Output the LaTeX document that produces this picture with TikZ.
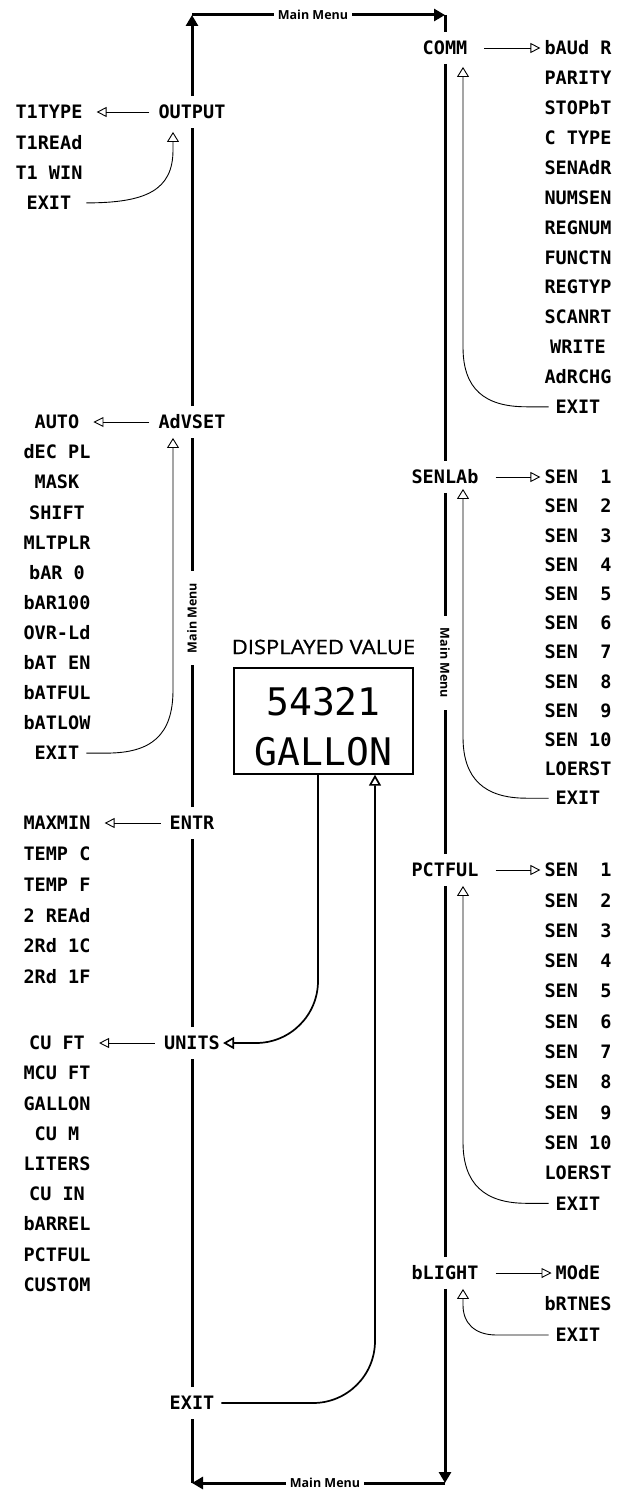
\documentclass[tikz,border=0pt]{standalone}
\usepackage{fontspec}
\usetikzlibrary{arrows.meta,positioning}
\newfontfamily\lcd{DejaVu Sans Mono}
\newfontfamily\lbl{Open Sans}
\newfontfamily\lblwide{Open Sans}[FakeStretch=1.1,FakeBold=0.9]
\newcommand\senlist{SEN~~1,SEN~~2,SEN~~3,SEN~~4,SEN~~5,SEN~~6,SEN~~7,SEN~~8,SEN~~9,SEN~10,LOERST,EXIT}

\begin{document}
\begin{tikzpicture}[x=1pt,y=-1pt,
  menu/.style={font=\lcd\bfseries\fontsize{18.5}{20}\selectfont,
               text height=13.5pt,text depth=0pt,inner xsep=3pt,inner ysep=9pt},
  trunk/.style={line width=3pt},
  trunkarr/.style={trunk,-{Triangle[length=11pt,width=12pt]}},
  fwd/.style={line width=0.9pt,-{Triangle[open,length=10pt,width=10pt]}},
  fwdl/.style={fwd,shorten <=6pt,shorten >=11pt},
  fwdr/.style={fwd,shorten <=14pt,shorten >=1pt},
  back/.style={line width=0.9pt,-{Triangle[open,length=10pt,width=12pt]}},
  feed/.style={line width=1.7pt,rounded corners=62pt,-{Triangle[open,length=11pt,width=12pt]}},
  mm/.style={font=\lbl\bfseries\fontsize{12.5}{14}\selectfont,inner sep=4pt},
  mmv/.style={mm,inner xsep=12pt},
  lcdbig/.style={font=\lcd\fontsize{38}{40}\selectfont,inner sep=0pt}
]
\useasboundingbox (0,0) rectangle (624,1490);

% corners of the main loop
\coordinate (tl) at (192,15);
\coordinate (tr) at (445,15);
\coordinate (bl) at (192,1483);
\coordinate (br) at (445,1483);

% main menu entries on the two trunks
\node[menu] (output) at (192,112)  {OUTPUT};
\node[menu] (advset) at (192,422)  {AdVSET};
\node[menu] (entr)   at (192,823)  {ENTR};
\node[menu] (units)  at (192,1043) {UNITS};
\node[menu] (mexit)  at (192,1403) {EXIT};
\node[menu] (comm)   at (445,48)   {COMM};
\node[menu] (senlab) at (445,477)  {SENLAb};
\node[menu] (pctful) at (445,870)  {PCTFUL};
\node[menu] (blight) at (445,1273) {bLIGHT};

\node[mm]            (mmtop)   at (313,15)   {Main Menu};
\node[mm]            (mmbot)   at (325,1483) {Main Menu};
\node[mmv,rotate=90] (mmleft)  at (192,618)  {Main Menu};
\node[mmv,rotate=-90](mmright) at (445,663)  {Main Menu};

% sub menus
\foreach \t [count=\i from 0] in {T1TYPE,T1REAd,T1 WIN,EXIT}
  \node[menu] (out\i) at (49,{112+30.3*\i}) {\t};
\foreach \t [count=\i from 0] in {AUTO,dEC PL,MASK,SHIFT,MLTPLR,bAR 0,bAR100,OVR-Ld,bAT EN,bATFUL,bATLOW,EXIT}
  \node[menu] (adv\i) at (57,{422+30.1*\i}) {\t};
\foreach \t [count=\i from 0] in {MAXMIN,TEMP C,TEMP F,2 REAd,2Rd 1C,2Rd 1F}
  \node[menu] (ent\i) at (57,{823+30.8*\i}) {\t};
\foreach \t [count=\i from 0] in {CU FT,MCU FT,GALLON,CU M,LITERS,CU IN,bARREL,PCTFUL,CUSTOM}
  \node[menu] (uni\i) at (57,{1043+30.2*\i}) {\t};
\foreach \t [count=\i from 0] in {bAUd R,PARITY,STOPbT,C TYPE,SENAdR,NUMSEN,REGNUM,FUNCTN,REGTYP,SCANRT,WRITE,AdRCHG,EXIT}
  \node[menu] (com\i) at (578,{48+29.9*\i}) {\t};
\foreach \t [count=\i from 0] in \senlist
  \node[menu] (lab\i) at (578,{477+29.2*\i}) {\t};
\foreach \t [count=\i from 0] in \senlist
  \node[menu] (pct\i) at (578,{870+30.3*\i}) {\t};
\foreach \t [count=\i from 0] in {MOdE,bRTNES,EXIT}
  \node[menu] (bl\i) at (578,{1273+31*\i}) {\t};

% display
\node[font=\lblwide\fontsize{20}{22}\selectfont,inner sep=0pt] (title) at (323.5,647) {DISPLAYED VALUE};
\node[draw,line width=1.4pt,minimum width=179pt,minimum height=106pt,inner sep=0pt] (disp) at (323.5,721) {};
\node[lcdbig] (value) at (323.5,702) {54321};
\node[lcdbig] (unit)  at (323.5,752) {GALLON};

% left trunk, bottom to top
\draw[trunk]    (bl) -- (mexit.south);
\draw[trunk]    (mexit.north) -- (units.south);
\draw[trunk]    (units.north) -- (entr.south);
\draw[trunk]    (entr.north) -- (mmleft.west);
\draw[trunk]    (mmleft.east) -- (advset.south);
\draw[trunk]    (advset.north) -- (output.south);
\draw[trunkarr] (output.north) -- (tl);
\draw[trunk]    (tl) -- (mmtop.west);
\draw[trunkarr] (mmtop.east) -- (tr);
% right trunk, top to bottom
\draw[trunk]    (tr) -- (comm.north);
\draw[trunk]    (comm.south) -- (senlab.north);
\draw[trunk]    (senlab.south) -- (mmright.west);
\draw[trunk]    (mmright.east) -- (pctful.north);
\draw[trunk]    (pctful.south) -- (blight.north);
\draw[trunkarr] (blight.south) -- (br);
\draw[trunk]    (br) -- (mmbot.east);
\draw[trunkarr] (mmbot.west) -- (bl);

% into the sub menus
\draw[fwdl] (output.west) -- (out0.east);
\draw[fwdl] (advset.west) -- (adv0.east);
\draw[fwdl] (entr.west)   -- (ent0.east);
\draw[fwdl] (units.west)  -- (uni0.east);
\draw[fwdr] (comm.east)   -- (com0.west);
\draw[fwdr] (senlab.east) -- (lab0.west);
\draw[fwdr] (pctful.east) -- (pct0.west);
\draw[fwdr] (blight.east) -- (bl0.west);

% back out of the sub menus
\coordinate (outtip) at ([xshift=-19pt,yshift=-4pt]output.south);
\coordinate (advtip) at ([xshift=-19pt]advset.south);
\coordinate (comtip) at ([xshift=18pt,yshift=-3pt]comm.south);
\coordinate (labtip) at ([xshift=18pt,yshift=4pt]senlab.south);
\coordinate (pcttip) at ([xshift=18pt]pctful.south);
\coordinate (bltip)  at ([xshift=18pt]blight.south);
\draw[back] ([xshift=12pt]out3.east) .. controls +(60,0) and +(0,40) .. (outtip |- 0,150) -- (outtip);
\draw[back] ([xshift=4pt]adv11.east) -- ++(20,0) .. controls +(45,0) and +(0,45) .. (advtip |- 0,690) -- (advtip);
\draw[back] ([xshift=-4pt]com12.west) -- ++(-22,0) .. controls +(-42,0) and +(0,42) .. (comtip |- 0,347) -- (comtip);
\draw[back] ([xshift=-4pt]lab11.west) -- ++(-22,0) .. controls +(-42,0) and +(0,42) .. (labtip |- 0,737) -- (labtip);
\draw[back] ([xshift=-4pt]pct11.west) -- ++(-22,0) .. controls +(-42,0) and +(0,42) .. (pcttip |- 0,1142) -- (pcttip);
\draw[back] ([xshift=-4pt]bl2.west) -- ++(-52,0) .. controls +(-22,0) and +(0,18) .. (bltip |- 0,1305) -- (bltip);

% display to units, exit to display
\coordinate (dout) at ([xshift=-5.5pt]disp.south);
\coordinate (din)  at ([xshift=51.5pt]disp.south);
\draw[feed] (dout) |- (units.east);
\draw[feed,shorten <=4pt] (mexit.east) -| (din);
\end{tikzpicture}
\end{document}
